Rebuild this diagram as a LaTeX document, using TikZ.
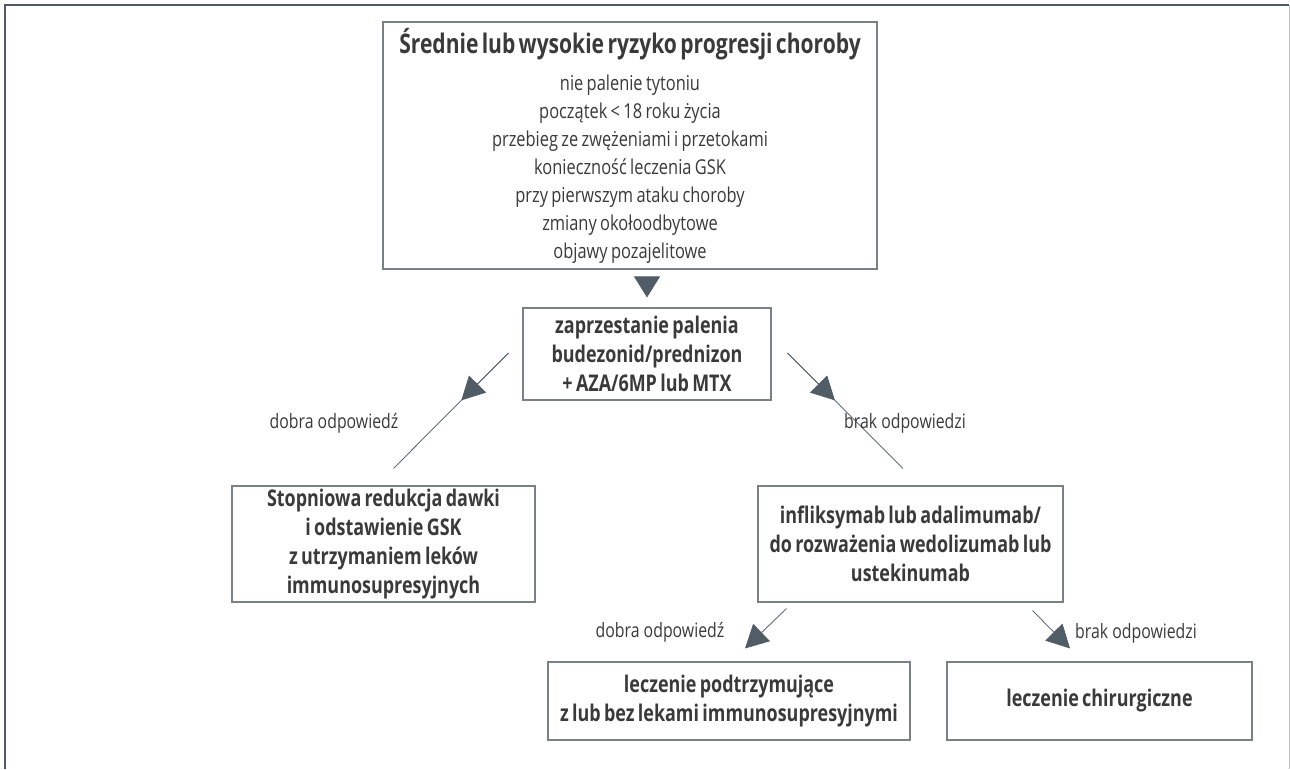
\documentclass[tikz,border=0pt]{standalone}
\usepackage{fontspec}
\setmainfont{Open Sans}[FakeStretch=0.80, BoldFeatures={FakeStretch=0.78}]
\usetikzlibrary{arrows.meta,calc}
\definecolor{txt}{RGB}{58,58,58}
\definecolor{boxc}{RGB}{120,128,136}
\definecolor{linec}{RGB}{100,110,120}
\definecolor{arrc}{RGB}{80,92,102}
\definecolor{framec}{RGB}{78,88,98}
\definecolor{framer}{RGB}{190,190,190}
\tikzset{
  box/.style={draw=boxc, line width=1.1pt, fill=white, align=center, inner sep=0pt, text=txt},
  conn/.style={draw=linec, line width=0.9pt},
  tipped/.style={draw=linec, line width=0.9pt, -{Triangle[length=23pt,width=24pt,color=arrc]}},
  lab/.style={text=txt, font=\fontsize{19.8}{22}\selectfont, inner sep=0pt},
}
\newcommand{\bigb}{\fontsize{27}{30}\selectfont\bfseries}
\newcommand{\regf}{\fontsize{20.5}{28}\selectfont}
\newcommand{\midb}{\fontsize{23}{29}\selectfont\bfseries}
\begin{document}
\begin{tikzpicture}[x=1pt,y=-1pt]
\useasboundingbox (0,0) rectangle (1290,769);
% frame
\draw[framec, line width=2pt] (4.5,769) -- (4.5,5) -- (1289,5);
\draw[framer, line width=1pt] (1289,5) -- (1289,769);
% boxes
\node[box, minimum width=494pt, minimum height=247pt, text width=480pt] (top) at (630,145.5)
 {\vspace*{3pt}{\bigb Średnie lub wysokie ryzyko progresji choroby\par}\vspace{6pt}
  {\regf nie palenie tytoniu\\ początek < 18 roku życia\\ przebieg ze zwężeniami i przetokami\\
   konieczność leczenia GSK\\ przy pierwszym ataku choroby\\ zmiany okołoodbytowe\\ objawy pozajelitowe\par}};
\node[box, minimum width=248pt, minimum height=92pt, text width=240pt] (mid) at (647,354)
 {\midb zaprzestanie palenia\\ budezonid/prednizon\\ + AZA/6MP lub MTX\par};
\node[box, minimum width=303pt, minimum height=116pt, text width=295pt] (lbox) at (383.5,544)
 {\midb Stopniowa redukcja dawki\\ i odstawienie GSK\\ z utrzymaniem leków\\ immunosupresyjnych\par};
\node[box, minimum width=305pt, minimum height=116pt, text width=297pt] (rbox) at (910.5,544)
 {\midb infliksymab lub adalimumab/\\ do rozważenia wedolizumab lub\\ ustekinumab\par};
\node[box, minimum width=362pt, minimum height=78pt, text width=354pt] (blbox) at (729,701)
 {\midb leczenie podtrzymujące\\ z lub bez lekami immunosupresyjnymi\par};
\node[box, minimum width=305pt, minimum height=78pt, text width=297pt] (brbox) at (1099.5,701)
 {\midb leczenie chirurgiczne\par};
% connectors
\coordinate (d1) at ($(top.south -| mid.north)+(0,8)$);
\coordinate (d2) at ($(mid.north)+(0,-10)$);
\draw[draw=linec, line width=0.9pt, -{Triangle[length=21pt,width=26pt,color=arrc]}] (d1) -- (d2);
% left diagonal
\coordinate (ls) at ($(mid.west)+(-14,-1)$);
\coordinate (le) at ($(lbox.north)+(10,-17)$);
\draw[conn] (ls) -- (le);
\draw[tipped] (ls) -- ($(ls)!0.41!(le)$);
% right diagonal
\coordinate (rs) at ($(mid.east)+(16,-1)$);
\coordinate (re) at ($(rbox.north)+(-7.5,-17)$);
\draw[conn] (rs) -- (re);
\draw[tipped] (rs) -- ($(rs)!0.41!(re)$);
% lower arrows
\draw[tipped] ($(rbox.south west)+(29,6)$) -- ($(blbox.north)+(16,-13)$);
\draw[tipped] ($(rbox.south east)+(-31,8)$) -- ($(brbox.north)+(-29.5,-13)$);
% labels
\node[lab] (l1) at (334,423) {dobra odpowiedź};
\node[lab] (l2) at (905,423) {brak odpowiedzi};
\node[lab] (l3) at (660,632) {dobra odpowiedź};
\node[lab] (l4) at (1136,633) {brak odpowiedzi};
\end{tikzpicture}
\end{document}
